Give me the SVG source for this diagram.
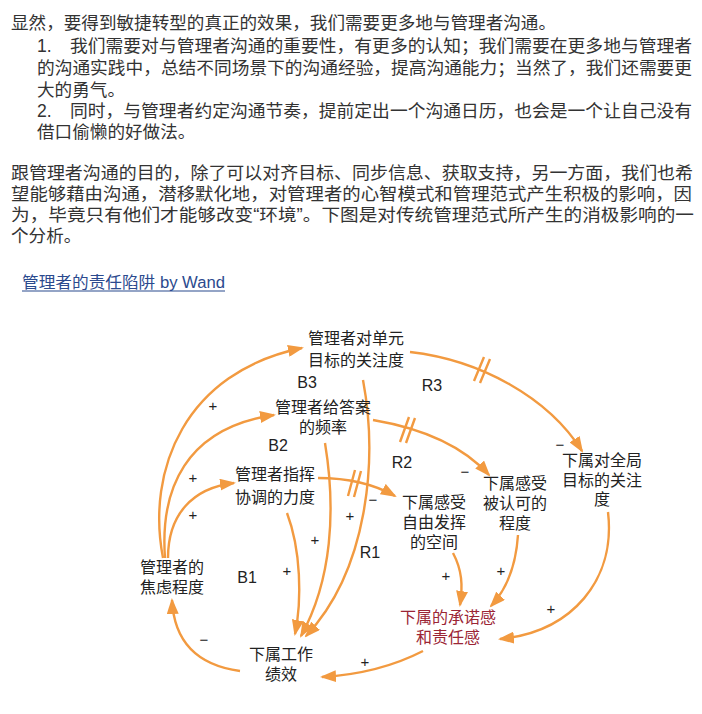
<svg xmlns="http://www.w3.org/2000/svg" width="702" height="714" viewBox="0 0 702 714">
<style>
.body{font-family:"Liberation Sans","Noto Sans CJK SC",sans-serif;font-size:17.6px;fill:#333;}
.node{font-family:"Liberation Sans","Noto Sans CJK SC",sans-serif;font-size:16px;fill:#222;text-anchor:middle;}
.red{fill:#9b2535;}
.loop{font-family:"Liberation Sans","Noto Sans",sans-serif;font-size:16px;fill:#222;text-anchor:middle;}
.sign{font-family:"Liberation Sans","Noto Sans",sans-serif;font-size:15px;fill:#222;text-anchor:middle;}
.link{font-family:"Liberation Sans","Noto Sans CJK SC",sans-serif;font-size:16px;fill:#2b4a8e;}
.c{fill:none;stroke:#f29a40;stroke-width:2.4;marker-end:url(#ah);}
.d{fill:none;stroke:#f29a40;stroke-width:2.4;}
</style>
<defs>
<marker id="ah" viewBox="0 0 16 12" refX="14" refY="6" markerWidth="16" markerHeight="12" markerUnits="userSpaceOnUse" orient="auto">
<path d="M0,0 L16,6 L0,12 Z" fill="#f29a40"/>
</marker>
</defs>
<rect width="702" height="714" fill="#fff"/>

<g id="text-block">
<text class="body"><tspan x="11" y="29" textLength="545" lengthAdjust="spacingAndGlyphs">显然，要得到敏捷转型的真正的效果，我们需要更多地与管理者沟通。</tspan><tspan x="37" y="52">1.</tspan><tspan x="70" y="52" textLength="622" lengthAdjust="spacingAndGlyphs">我们需要对与管理者沟通的重要性，有更多的认知；我们需要在更多地与管理者</tspan><tspan x="37" y="74" textLength="655" lengthAdjust="spacingAndGlyphs">的沟通实践中，总结不同场景下的沟通经验，提高沟通能力；当然了，我们还需要更</tspan><tspan x="37" y="96">大的勇气。</tspan><tspan x="37" y="117">2.</tspan><tspan x="70" y="117" textLength="622" lengthAdjust="spacingAndGlyphs">同时，与管理者约定沟通节奏，提前定出一个沟通日历，也会是一个让自己没有</tspan><tspan x="37" y="138">借口偷懒的好做法。</tspan></text>
<text class="body"><tspan x="11" y="179" textLength="682" lengthAdjust="spacingAndGlyphs">跟管理者沟通的目的，除了可以对齐目标、同步信息、获取支持，另一方面，我们也希</tspan><tspan x="11" y="200" textLength="681" lengthAdjust="spacingAndGlyphs">望能够藉由沟通，潜移默化地，对管理者的心智模式和管理范式产生积极的影响，因</tspan><tspan x="11" y="221" textLength="683" lengthAdjust="spacingAndGlyphs">为，毕竟只有他们才能够改变“环境”。下图是对传统管理范式所产生的消极影响的一</tspan><tspan x="11" y="242">个分析。</tspan></text>
</g>

<g id="title">
<text class="link" x="22" y="288" textLength="203" lengthAdjust="spacingAndGlyphs">管理者的责任陷阱 by Wand</text>
<line x1="22" y1="291" x2="225" y2="291" stroke="#2b4a8e" stroke-width="1.2"/>
</g>

<g id="connectors">
<path class="c" d="M163,558 C146,470 185,372 302,348"/>
<path class="c" d="M165,558 C160,490 185,428 274,415"/>
<path class="c" d="M168,558 C168,515 192,488 234,483"/>
<path class="c" d="M410,352 C480,360 548,397 582,451"/>
<path class="c" d="M363,380 C378,460 368,570 306,636"/>
<path class="c" d="M325,443 C336,510 332,580 301,636"/>
<path class="c" d="M287,513 C301,550 302,600 295,634"/>
<path class="c" d="M373,420 C420,428 462,445 489,475"/>
<path class="c" d="M318,478 C345,478 372,483 395,496"/>
<path class="c" d="M453,553 C462,570 463,585 460,605"/>
<path class="c" d="M518,535 C516,565 506,590 491,606"/>
<path class="c" d="M608,512 C616,580 572,632 500,639"/>
<path class="c" d="M423,651 C390,668 356,675 322,677"/>
<path class="c" d="M240,671 C196,665 174,640 172,600"/>
<path class="d" d="M474,381 L484,357 M480,383 L490,359"/>
<path class="d" d="M400,442 L409,417 M406,443 L415,418"/>
<path class="d" d="M348,496 L355,470 M354,497 L361,471"/>
</g>

<g id="n-unit-goal"><text class="node"><tspan x="356" y="344">管理者对单元</tspan><tspan x="356" y="366">目标的关注度</tspan></text></g>
<g id="n-answer"><text class="node"><tspan x="323" y="413">管理者给答案</tspan><tspan x="323" y="433">的频率</tspan></text></g>
<g id="n-command"><text class="node"><tspan x="275" y="480">管理者指挥</tspan><tspan x="275" y="503">协调的力度</tspan></text></g>
<g id="n-anxiety"><text class="node"><tspan x="172" y="573">管理者的</tspan><tspan x="172" y="593">焦虑程度</tspan></text></g>
<g id="n-performance"><text class="node"><tspan x="281" y="660">下属工作</tspan><tspan x="281" y="680">绩效</tspan></text></g>
<g id="n-freedom"><text class="node"><tspan x="434" y="508">下属感受</tspan><tspan x="434" y="528">自由发挥</tspan><tspan x="434" y="548">的空间</tspan></text></g>
<g id="n-recognized"><text class="node"><tspan x="515" y="489">下属感受</tspan><tspan x="515" y="509">被认可的</tspan><tspan x="515" y="529">程度</tspan></text></g>
<g id="n-global"><text class="node"><tspan x="602" y="466">下属对全局</tspan><tspan x="602" y="486">目标的关注</tspan><tspan x="602" y="505">度</tspan></text></g>
<g id="n-commitment"><text class="node red"><tspan x="448" y="623">下属的承诺感</tspan><tspan x="448" y="643">和责任感</tspan></text></g>

<g id="loop-labels">
<text class="loop" x="307" y="388">B3</text>
<text class="loop" x="278" y="451">B2</text>
<text class="loop" x="247" y="583">B1</text>
<text class="loop" x="370" y="558">R1</text>
<text class="loop" x="402" y="468">R2</text>
<text class="loop" x="432" y="391">R3</text>
</g>

<g id="signs">
<text class="sign" x="213" y="411">+</text>
<text class="sign" x="193" y="483">+</text>
<text class="sign" x="193" y="520">+</text>
<text class="sign" x="373" y="505">−</text>
<text class="sign" x="350" y="521">+</text>
<text class="sign" x="315" y="545">+</text>
<text class="sign" x="287" y="576">+</text>
<text class="sign" x="204" y="645">−</text>
<text class="sign" x="365" y="667">+</text>
<text class="sign" x="446" y="581">+</text>
<text class="sign" x="501" y="576">+</text>
<text class="sign" x="551" y="614">+</text>
<text class="sign" x="465" y="477">−</text>
<text class="sign" x="560" y="450">−</text>
</g>
</svg>
